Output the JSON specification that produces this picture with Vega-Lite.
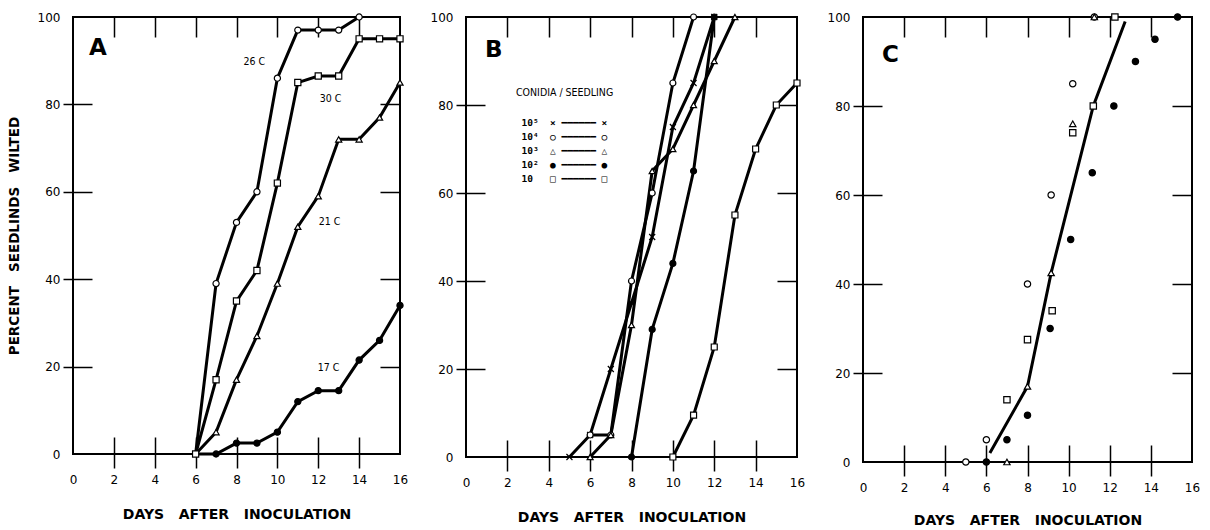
{
  "$schema": "https://vega.github.io/schema/vega-lite/v6.json",
  "background": "white",
  "autosize": {"type": "pad"},
  "padding": {"left": 6, "top": 10, "right": 5, "bottom": 5},
  "spacing": 20,
  "datasets": {
    "a": [
      {"s": "26 C", "day": 6, "pct": 0}, {"s": "26 C", "day": 7, "pct": 39}, {"s": "26 C", "day": 8, "pct": 53}, {"s": "26 C", "day": 9, "pct": 60}, {"s": "26 C", "day": 10, "pct": 86}, {"s": "26 C", "day": 11, "pct": 97}, {"s": "26 C", "day": 12, "pct": 97}, {"s": "26 C", "day": 13, "pct": 97}, {"s": "26 C", "day": 14, "pct": 100},
      {"s": "30 C", "day": 6, "pct": 0}, {"s": "30 C", "day": 7, "pct": 17}, {"s": "30 C", "day": 8, "pct": 35}, {"s": "30 C", "day": 9, "pct": 42}, {"s": "30 C", "day": 10, "pct": 62}, {"s": "30 C", "day": 11, "pct": 85}, {"s": "30 C", "day": 12, "pct": 86.5}, {"s": "30 C", "day": 13, "pct": 86.5}, {"s": "30 C", "day": 14, "pct": 95}, {"s": "30 C", "day": 15, "pct": 95}, {"s": "30 C", "day": 16, "pct": 95},
      {"s": "21 C", "day": 6, "pct": 0}, {"s": "21 C", "day": 7, "pct": 5}, {"s": "21 C", "day": 8, "pct": 17}, {"s": "21 C", "day": 9, "pct": 27}, {"s": "21 C", "day": 10, "pct": 39}, {"s": "21 C", "day": 11, "pct": 52}, {"s": "21 C", "day": 12, "pct": 59}, {"s": "21 C", "day": 13, "pct": 72}, {"s": "21 C", "day": 14, "pct": 72}, {"s": "21 C", "day": 15, "pct": 77}, {"s": "21 C", "day": 16, "pct": 85},
      {"s": "17 C", "day": 6, "pct": 0}, {"s": "17 C", "day": 7, "pct": 0}, {"s": "17 C", "day": 8, "pct": 2.5}, {"s": "17 C", "day": 9, "pct": 2.5}, {"s": "17 C", "day": 10, "pct": 5}, {"s": "17 C", "day": 11, "pct": 12}, {"s": "17 C", "day": 12, "pct": 14.5}, {"s": "17 C", "day": 13, "pct": 14.5}, {"s": "17 C", "day": 14, "pct": 21.5}, {"s": "17 C", "day": 15, "pct": 26}, {"s": "17 C", "day": 16, "pct": 34}
    ],
    "alab": [
      {"t": "26 C", "day": 8.87, "pct": 89.7},
      {"t": "30 C", "day": 12.6, "pct": 81.3},
      {"t": "21 C", "day": 12.55, "pct": 53},
      {"t": "17 C", "day": 12.5, "pct": 19.6}
    ],
    "b": [
      {"s": "10⁵", "day": 5, "pct": 0}, {"s": "10⁵", "day": 6, "pct": 5}, {"s": "10⁵", "day": 7, "pct": 20}, {"s": "10⁵", "day": 8, "pct": 35}, {"s": "10⁵", "day": 9, "pct": 50}, {"s": "10⁵", "day": 10, "pct": 75}, {"s": "10⁵", "day": 11, "pct": 85}, {"s": "10⁵", "day": 12, "pct": 100},
      {"s": "10⁴", "day": 6, "pct": 5}, {"s": "10⁴", "day": 7, "pct": 5}, {"s": "10⁴", "day": 8, "pct": 40}, {"s": "10⁴", "day": 9, "pct": 60}, {"s": "10⁴", "day": 10, "pct": 85}, {"s": "10⁴", "day": 11, "pct": 100},
      {"s": "10³", "day": 6, "pct": 0}, {"s": "10³", "day": 7, "pct": 5}, {"s": "10³", "day": 8, "pct": 30}, {"s": "10³", "day": 9, "pct": 65}, {"s": "10³", "day": 10, "pct": 70}, {"s": "10³", "day": 11, "pct": 80}, {"s": "10³", "day": 12, "pct": 90}, {"s": "10³", "day": 13, "pct": 100},
      {"s": "10²", "day": 8, "pct": 0}, {"s": "10²", "day": 9, "pct": 29}, {"s": "10²", "day": 10, "pct": 44}, {"s": "10²", "day": 11, "pct": 65}, {"s": "10²", "day": 12, "pct": 100},
      {"s": "10", "day": 10, "pct": 0}, {"s": "10", "day": 11, "pct": 9.5}, {"s": "10", "day": 12, "pct": 25}, {"s": "10", "day": 13, "pct": 55}, {"s": "10", "day": 14, "pct": 70}, {"s": "10", "day": 15, "pct": 80}, {"s": "10", "day": 16, "pct": 85}
    ],
    "c": [
      {"s": "10⁴", "day": 5, "pct": 0}, {"s": "10⁴", "day": 6, "pct": 5}, {"s": "10⁴", "day": 8, "pct": 40}, {"s": "10⁴", "day": 9.15, "pct": 60}, {"s": "10⁴", "day": 10.2, "pct": 85}, {"s": "10⁴", "day": 11.25, "pct": 100},
      {"s": "10²", "day": 6, "pct": 0}, {"s": "10²", "day": 7, "pct": 5}, {"s": "10²", "day": 8, "pct": 10.5}, {"s": "10²", "day": 9.1, "pct": 30}, {"s": "10²", "day": 10.1, "pct": 50}, {"s": "10²", "day": 11.15, "pct": 65}, {"s": "10²", "day": 12.2, "pct": 80}, {"s": "10²", "day": 13.25, "pct": 90}, {"s": "10²", "day": 14.2, "pct": 95}, {"s": "10²", "day": 15.3, "pct": 100},
      {"s": "10³", "day": 7, "pct": 0}, {"s": "10³", "day": 8, "pct": 17}, {"s": "10³", "day": 9.15, "pct": 42.5}, {"s": "10³", "day": 10.2, "pct": 76}, {"s": "10³", "day": 11.25, "pct": 100},
      {"s": "10", "day": 7, "pct": 14}, {"s": "10", "day": 8, "pct": 27.5}, {"s": "10", "day": 9.2, "pct": 34}, {"s": "10", "day": 10.2, "pct": 74}, {"s": "10", "day": 11.2, "pct": 80}, {"s": "10", "day": 12.25, "pct": 100}
    ],
    "cfit": [
      {"day": 6.17, "pct": 2}, {"day": 8, "pct": 17}, {"day": 9.15, "pct": 42.5}, {"day": 11.2, "pct": 80}, {"day": 12.75, "pct": 99}
    ]
  },
  "resolve": {"scale": {"shape": "independent", "fill": "independent"}},
  "hconcat": [
    {
      "width": 327, "height": 437,
      "title": {"text": "A", "anchor": "start", "frame": "group", "offset": 0, "dx": 16, "dy": 49, "fontSize": 23, "fontWeight": "bold", "font": "DejaVu Sans", "color": "black"},
      "resolve": {"axis": {"x": "independent", "y": "independent"}},
      "layer": [
        {
          "data": {"name": "a"},
          "mark": {"type": "line", "stroke": "black", "strokeWidth": 3},
          "encoding": {
            "x": {"field": "day", "type": "quantitative", "scale": {"domain": [0, 16], "nice": false},
              "axis": {"orient": "bottom", "values": [0, 2, 4, 6, 8, 10, 12, 14, 16], "tickSize": 31, "offset": -17, "labelPadding": 6,
                "tickOpacity": {"condition": {"test": "datum.value == 0 || datum.value == 16", "value": 0}, "value": 1},
                "title": "DAYS\u00a0\u00a0\u00a0AFTER\u00a0\u00a0\u00a0INOCULATION", "titlePadding": 22, "titleFontSize": 14}},
            "y": {"field": "pct", "type": "quantitative", "scale": {"domain": [0, 100], "nice": false},
              "axis": {"orient": "left", "values": [0, 20, 40, 60, 80, 100], "tickSize": 29, "offset": -19, "labelPadding": 3,
                "tickOpacity": {"condition": {"test": "datum.value == 0 || datum.value == 100", "value": 0}, "value": 1},
                "title": "PERCENT\u00a0\u00a0\u00a0SEEDLINDS\u00a0\u00a0\u00a0WILTED", "titlePadding": 16, "titleFontSize": 13.5}},
            "detail": {"field": "s"},
            "order": {"field": "day"}
          }
        },
        {
          "data": {"name": "a"},
          "transform": [{"filter": "datum.day > 6 || datum.s == '30 C'"}],
          "mark": {"type": "point", "filled": true, "stroke": "black", "strokeWidth": 1.2, "size": 38, "opacity": 1},
          "encoding": {
            "x": {"field": "day", "type": "quantitative", "scale": {"domain": [0, 16], "nice": false},
              "axis": {"orient": "top", "values": [2, 4, 6, 8, 10, 12, 14], "tickSize": 20, "offset": -20, "labels": false, "title": null}},
            "y": {"field": "pct", "type": "quantitative", "scale": {"domain": [0, 100], "nice": false},
              "axis": {"orient": "right", "values": [20, 40, 60, 80], "tickSize": 20, "offset": -20, "labels": false, "title": null}},
            "shape": {"field": "s", "type": "nominal", "scale": {"domain": ["26 C", "30 C", "21 C", "17 C"], "range": ["circle", "square", "triangle-up", "circle"]}, "legend": null},
            "fill": {"field": "s", "type": "nominal", "scale": {"domain": ["26 C", "30 C", "21 C", "17 C"], "range": ["white", "white", "white", "black"]}, "legend": null}
          }
        },
        {
          "data": {"name": "alab"},
          "mark": {"type": "text", "font": "DejaVu Sans Condensed", "fontSize": 10.5, "color": "black"},
          "encoding": {
            "x": {"field": "day", "type": "quantitative", "scale": {"domain": [0, 16], "nice": false}, "axis": null},
            "y": {"field": "pct", "type": "quantitative", "scale": {"domain": [0, 100], "nice": false}, "axis": null},
            "text": {"field": "t"}
          }
        }
      ]
    },
    {
      "width": 331, "height": 440,
      "title": {"text": "B", "anchor": "start", "frame": "group", "offset": 0, "dx": 19, "dy": 51, "fontSize": 23, "fontWeight": "bold", "font": "DejaVu Sans", "color": "black"},
      "resolve": {"axis": {"x": "independent", "y": "independent"}},
      "layer": [
        {
          "data": {"name": "b"},
          "mark": {"type": "line", "stroke": "black", "strokeWidth": 3},
          "encoding": {
            "x": {"field": "day", "type": "quantitative", "scale": {"domain": [0, 16], "nice": false},
              "axis": {"orient": "bottom", "values": [0, 2, 4, 6, 8, 10, 12, 14, 16], "tickSize": 31, "offset": -17, "labelPadding": 6,
                "tickOpacity": {"condition": {"test": "datum.value == 0 || datum.value == 16", "value": 0}, "value": 1},
                "title": "DAYS\u00a0\u00a0\u00a0AFTER\u00a0\u00a0\u00a0INOCULATION", "titlePadding": 22, "titleFontSize": 14}},
            "y": {"field": "pct", "type": "quantitative", "scale": {"domain": [0, 100], "nice": false},
              "axis": {"orient": "left", "values": [0, 20, 40, 60, 80, 100], "tickSize": 29, "offset": -19, "labelPadding": 3,
                "tickOpacity": {"condition": {"test": "datum.value == 0 || datum.value == 100", "value": 0}, "value": 1},
                "title": null}},
            "detail": {"field": "s"},
            "order": {"field": "day"}
          }
        },
        {
          "data": {"name": "b"},
          "mark": {"type": "point", "filled": true, "stroke": "black", "strokeWidth": 1.2, "size": 36, "opacity": 1},
          "encoding": {
            "x": {"field": "day", "type": "quantitative", "scale": {"domain": [0, 16], "nice": false},
              "axis": {"orient": "top", "values": [2, 4, 6, 8, 10, 12, 14], "tickSize": 20, "offset": -20, "labels": false, "title": null}},
            "y": {"field": "pct", "type": "quantitative", "scale": {"domain": [0, 100], "nice": false},
              "axis": {"orient": "right", "values": [20, 40, 60, 80], "tickSize": 20, "offset": -20, "labels": false, "title": null}},
            "shape": {"field": "s", "type": "nominal",
              "scale": {"domain": ["10⁵", "10⁴", "10³", "10²", "10"], "range": ["M-1,-1L1,1M-1,1L1,-1", "circle", "triangle-up", "circle", "square"]},
              "legend": {"orient": "none", "legendX": 50, "legendY": 71, "padding": 0,
                "title": "CONIDIA / SEEDLING", "titleFont": "DejaVu Sans Condensed", "titleFontSize": 10.5, "titleFontWeight": "normal", "titleColor": "black", "titlePadding": 20,
                "labelFont": "DejaVu Sans Mono", "labelFontSize": 9.5, "labelFontWeight": "bold", "labelColor": "black",
                "labelExpr": "datum.value == '10⁵' ? '10⁵\u00a0\u00a0×\u00a0━━━━━━\u00a0×' : datum.value == '10⁴' ? '10⁴\u00a0\u00a0○\u00a0━━━━━━\u00a0○' : datum.value == '10³' ? '10³\u00a0\u00a0△\u00a0━━━━━━\u00a0△' : datum.value == '10²' ? '10²\u00a0\u00a0●\u00a0━━━━━━\u00a0●' : '10\u00a0\u00a0\u00a0□\u00a0━━━━━━\u00a0□'",
                "symbolOpacity": 0, "symbolSize": 0, "symbolStrokeWidth": 0, "labelOffset": -4, "rowPadding": 3}},
            "fill": {"field": "s", "type": "nominal", "scale": {"domain": ["10⁵", "10⁴", "10³", "10²", "10"], "range": ["white", "white", "white", "black", "white"]}, "legend": null}
          }
        }
      ]
    },
    {
      "width": 329, "height": 445,
      "title": {"text": "C", "anchor": "start", "frame": "group", "offset": 0, "dx": 19, "dy": 56, "fontSize": 23, "fontWeight": "bold", "font": "DejaVu Sans", "color": "black"},
      "resolve": {"axis": {"x": "independent", "y": "independent"}},
      "layer": [
        {
          "data": {"name": "cfit"},
          "mark": {"type": "line", "stroke": "black", "strokeWidth": 3},
          "encoding": {
            "x": {"field": "day", "type": "quantitative", "scale": {"domain": [0, 16], "nice": false},
              "axis": {"orient": "bottom", "values": [0, 2, 4, 6, 8, 10, 12, 14, 16], "tickSize": 31, "offset": -17, "labelPadding": 6,
                "tickOpacity": {"condition": {"test": "datum.value == 0 || datum.value == 16", "value": 0}, "value": 1},
                "title": "DAYS\u00a0\u00a0\u00a0AFTER\u00a0\u00a0\u00a0INOCULATION", "titlePadding": 20, "titleFontSize": 14}},
            "y": {"field": "pct", "type": "quantitative", "scale": {"domain": [0, 100], "nice": false},
              "axis": {"orient": "left", "values": [0, 20, 40, 60, 80, 100], "tickSize": 29, "offset": -19, "labelPadding": 3,
                "tickOpacity": {"condition": {"test": "datum.value == 0 || datum.value == 100", "value": 0}, "value": 1},
                "title": null}},
            "order": {"field": "day"}
          }
        },
        {
          "data": {"name": "c"},
          "mark": {"type": "point", "filled": true, "stroke": "black", "strokeWidth": 1.2, "size": 40, "opacity": 1},
          "encoding": {
            "x": {"field": "day", "type": "quantitative", "scale": {"domain": [0, 16], "nice": false},
              "axis": {"orient": "top", "values": [2, 4, 6, 8, 10, 12, 14], "tickSize": 20, "offset": -20, "labels": false, "title": null}},
            "y": {"field": "pct", "type": "quantitative", "scale": {"domain": [0, 100], "nice": false},
              "axis": {"orient": "right", "values": [20, 40, 60, 80], "tickSize": 20, "offset": -20, "labels": false, "title": null}},
            "shape": {"field": "s", "type": "nominal", "scale": {"domain": ["10⁴", "10³", "10²", "10"], "range": ["circle", "triangle-up", "circle", "square"]}, "legend": null},
            "fill": {"field": "s", "type": "nominal", "scale": {"domain": ["10⁴", "10³", "10²", "10"], "range": ["white", "white", "black", "white"]}, "legend": null}
          }
        }
      ]
    }
  ],
  "config": {
    "view": {"stroke": "black", "strokeWidth": 2},
    "axis": {"grid": false, "domain": false, "tickColor": "black", "tickWidth": 1.5, "labelColor": "black", "labelFont": "DejaVu Sans", "labelFontSize": 12,
      "titleFont": "DejaVu Sans", "titleFontWeight": "bold", "titleColor": "black", "labelFlush": false, "labelOverlap": false, "labelBound": false},
    "title": {"color": "black"}
  }
}
